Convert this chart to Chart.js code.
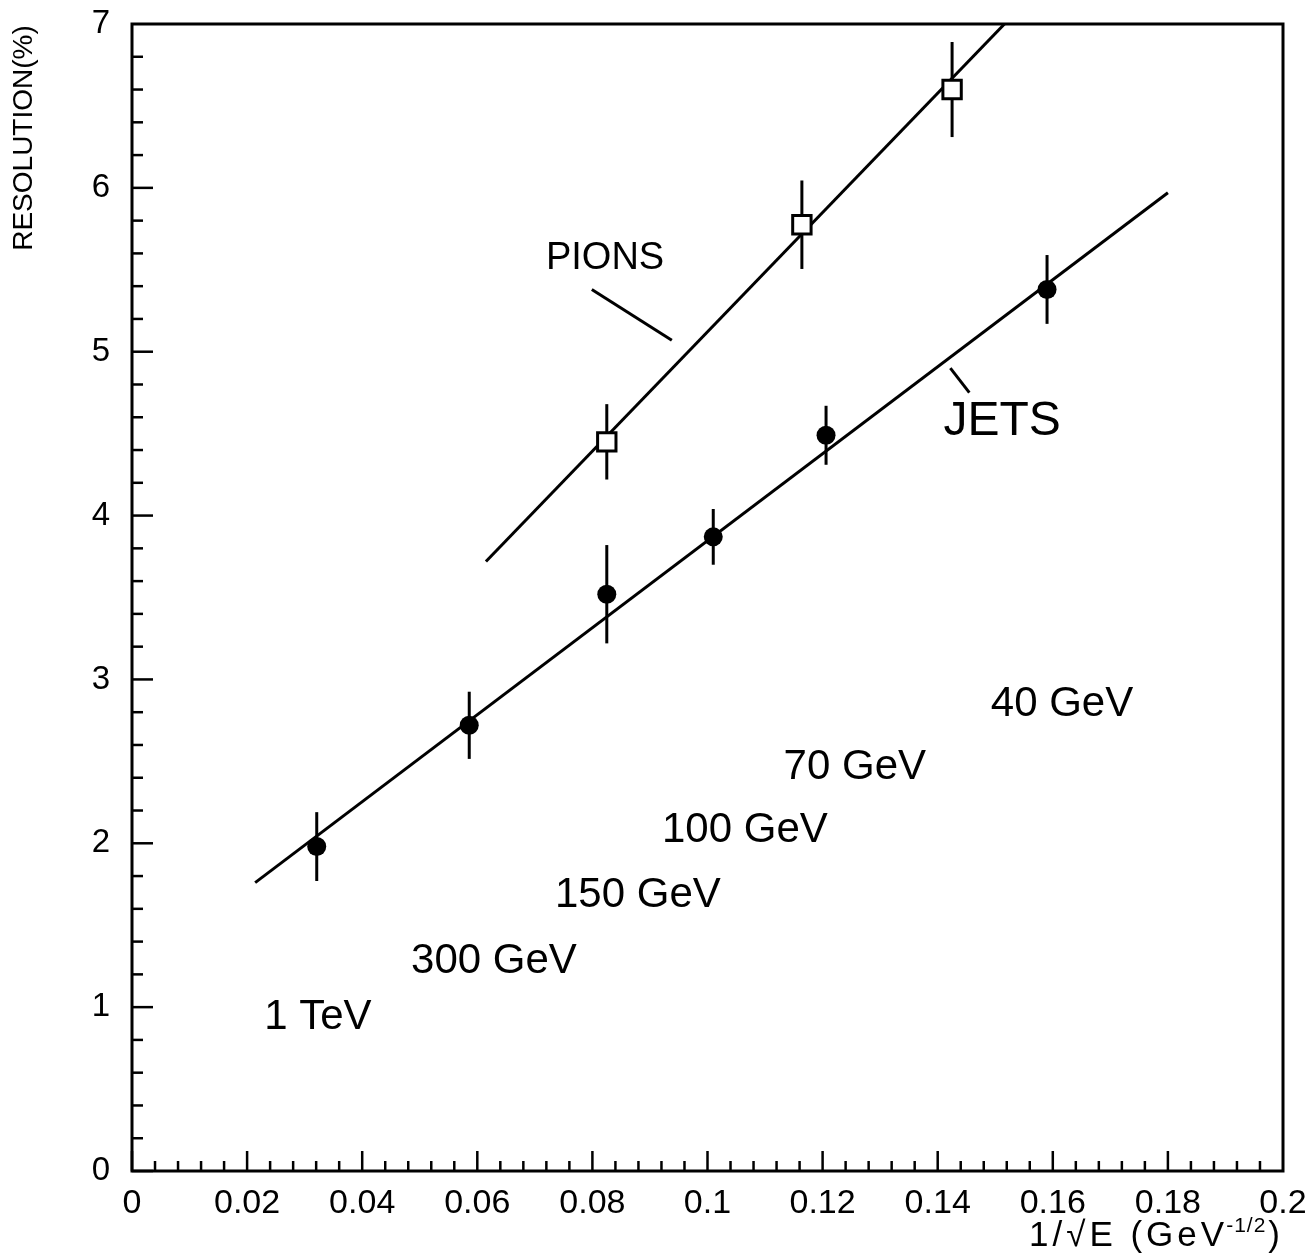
<!DOCTYPE html>
<html>
<head>
<meta charset="utf-8">
<title>Resolution vs 1/sqrt(E)</title>
<script src="https://cdn.jsdelivr.net/npm/chart.js@4/dist/chart.umd.min.js"></script>
<style>
  html, body { margin: 0; padding: 0; background: #fff; }
  #wrap { width: 1313px; height: 1260px; position: relative; }
</style>
</head>
<body>
<div id="wrap"><canvas id="resolutionChart"></canvas></div>
<script>
'use strict';

var jetsX = [0.0321, 0.0586, 0.0825, 0.101, 0.1206, 0.159];
var jetsY = [1.98, 2.72, 3.52, 3.87, 4.49, 5.38];
var jetsErr = [0.21, 0.205, 0.30, 0.17, 0.18, 0.21];

var pionsX = [0.0825, 0.1164, 0.1425];
var pionsY = [4.45, 5.775, 6.60];
var pionsErr = [0.23, 0.27, 0.29];

// fitted straight lines
var jetsFitX = [0.0214, 0.180];
var jetsFitY = [1.76, 5.97];
var pionsFitX = [0.0615, 0.1516];
var pionsFitY = [3.72, 7.0];

// little pointer strokes next to the PIONS / JETS labels
var pionsPointerX = [0.0799, 0.0938];
var pionsPointerY = [5.38, 5.07];
var jetsPointerX = [0.1422, 0.1455];
var jetsPointerY = [4.90, 4.75];

// axes
var xTicks = [0, 0.02, 0.04, 0.06, 0.08, 0.1, 0.12, 0.14, 0.16, 0.18, 0.2];
var xTickLabels = ['0', '0.02', '0.04', '0.06', '0.08', '0.1', '0.12', '0.14', '0.16', '0.18', '0.2'];
var yTicks = [0, 1, 2, 3, 4, 5, 6, 7];
var yTickLabels = ['0', '1', '2', '3', '4', '5', '6', '7'];

// text labels inside the plot
var noteText = ['PIONS', 'JETS', '40 GeV', '70 GeV', '100 GeV', '150 GeV', '300 GeV', '1 TeV'];
var noteX = [0.0822, 0.1512, 0.1616, 0.1256, 0.1065, 0.0879, 0.0629, 0.0323];
var noteY = [5.57, 4.57, 2.845, 2.46, 2.076, 1.679, 1.276, 0.94];
var noteSize = [38, 48, 42, 42, 42, 42, 42, 42];

var FONT = '"Liberation Sans", Arial, sans-serif';

function toPoints(xs, ys) {
  var pts = [];
  for (var i = 0; i < xs.length; i++) {
    pts.push({ x: xs[i], y: ys[i] });
  }
  return pts;
}

function lineSet(xs, ys) {
  return {
    data: toPoints(xs, ys),
    showLine: true,
    borderColor: '#000',
    borderWidth: 3,
    pointRadius: 0,
    fill: false
  };
}

// keep the plot frame where the layout padding puts it
function fixScale(scale, size) {
  if (scale.isHorizontal()) {
    scale.height = size;
  } else {
    scale.width = size;
  }
  scale.paddingTop = 0;
  scale.paddingBottom = 0;
  scale.paddingLeft = 0;
  scale.paddingRight = 0;
}

// vertical error bars, drawn under the markers
var errorBars = {
  id: 'errorBars',
  beforeDatasetsDraw: function (chart) {
    var ctx = chart.ctx;
    var xs = chart.scales.x;
    var ys = chart.scales.y;
    ctx.save();
    ctx.strokeStyle = '#000';
    ctx.lineWidth = 3;
    function bars(xv, yv, ev) {
      for (var i = 0; i < xv.length; i++) {
        var px = xs.getPixelForValue(xv[i]);
        ctx.beginPath();
        ctx.moveTo(px, ys.getPixelForValue(yv[i] - ev[i]));
        ctx.lineTo(px, ys.getPixelForValue(yv[i] + ev[i]));
        ctx.stroke();
      }
    }
    bars(jetsX, jetsY, jetsErr);
    bars(pionsX, pionsY, pionsErr);
    ctx.restore();
  }
};

// frame, inward ticks, texts and axis titles
var decorations = {
  id: 'decorations',
  afterDraw: function (chart) {
    var ctx = chart.ctx;
    var a = chart.chartArea;
    var xs = chart.scales.x;
    var ys = chart.scales.y;
    var i, k, v, p;
    ctx.save();
    ctx.strokeStyle = '#000';
    ctx.fillStyle = '#000';

    ctx.lineWidth = 3;
    ctx.strokeRect(a.left, a.top, a.right - a.left, a.bottom - a.top);

    ctx.lineWidth = 2.5;
    for (i = 0; i < xTicks.length - 1; i++) {
      for (k = 0; k < 5; k++) {
        v = xTicks[i] + (xTicks[i + 1] - xTicks[i]) * k / 5;
        p = xs.getPixelForValue(v);
        ctx.beginPath();
        ctx.moveTo(p, a.bottom);
        ctx.lineTo(p, a.bottom - (k === 0 ? 20 : 10));
        ctx.stroke();
      }
    }
    for (i = 0; i < yTicks.length - 1; i++) {
      for (k = 0; k < 5; k++) {
        v = yTicks[i] + (yTicks[i + 1] - yTicks[i]) * k / 5;
        p = ys.getPixelForValue(v);
        ctx.beginPath();
        ctx.moveTo(a.left, p);
        ctx.lineTo(a.left + (k === 0 ? 21 : 11), p);
        ctx.stroke();
      }
    }

    ctx.textAlign = 'center';
    ctx.textBaseline = 'middle';
    for (i = 0; i < noteText.length; i++) {
      ctx.font = noteSize[i] + 'px ' + FONT;
      ctx.fillText(noteText[i], xs.getPixelForValue(noteX[i]), ys.getPixelForValue(noteY[i]));
    }

    // y title, rotated, near the top
    ctx.save();
    ctx.translate(24, a.top + 114);
    ctx.rotate(-Math.PI / 2);
    ctx.font = '28px ' + FONT;
    ctx.fillText('RESOLUTION(%)', 0, 0);
    ctx.restore();

    // x title with superscript, right aligned
    ctx.textAlign = 'left';
    ctx.textBaseline = 'alphabetic';
    var base = 1246;
    var mainFont = '35px ' + FONT;
    var supFont = '21px ' + FONT;
    var mainText = '1/\u221AE (GeV';
    var supText = '-1/2';
    ctx.letterSpacing = '4px';
    ctx.font = mainFont;
    var w1 = ctx.measureText(mainText).width;
    var w3 = ctx.measureText(')').width;
    ctx.letterSpacing = '1px';
    ctx.font = supFont;
    var w2 = ctx.measureText(supText).width;
    var start = 1284 - (w1 + w2 + w3);
    ctx.letterSpacing = '4px';
    ctx.font = mainFont;
    ctx.fillText(mainText, start, base);
    ctx.fillText(')', start + w1 + w2, base);
    ctx.letterSpacing = '1px';
    ctx.font = supFont;
    ctx.fillText(supText, start + w1 - 2, base - 14);
    ctx.restore();
  }
};

function drawChart() {
  Chart.defaults.font.family = FONT;
  Chart.defaults.color = '#000';
  var ctx = document.getElementById('resolutionChart').getContext('2d');
  var chart = new Chart(ctx, { //eslint-disable-line
    type: 'scatter',
    data: {
      datasets: [
        {
          data: toPoints(jetsX, jetsY),
          pointStyle: 'circle',
          pointRadius: 9.5,
          backgroundColor: '#000',
          borderColor: '#000',
          borderWidth: 0
        },
        {
          data: toPoints(pionsX, pionsY),
          pointStyle: 'rect',
          pointRadius: 13,
          backgroundColor: '#fff',
          borderColor: '#000',
          borderWidth: 3
        },
        lineSet(jetsFitX, jetsFitY),
        lineSet(pionsFitX, pionsFitY),
        lineSet(pionsPointerX, pionsPointerY),
        lineSet(jetsPointerX, jetsPointerY)
      ]
    },
    options: {
      responsive: true,
      maintainAspectRatio: false,
      animation: false,
      events: [],
      layout: { padding: { left: 0, top: 24, right: 30, bottom: 0 } },
      plugins: {
        legend: { display: false },
        tooltip: { enabled: false }
      },
      scales: {
        x: {
          type: 'linear',
          min: 0,
          max: 0.2,
          grid: { display: false, drawTicks: false },
          border: { display: false },
          ticks: {
            stepSize: 0.02,
            autoSkip: false,
            maxRotation: 0,
            padding: 12,
            font: { size: 34 },
            callback: function (value, index) { return xTickLabels[index]; }
          },
          afterFit: function (scale) { fixScale(scale, 89); }
        },
        y: {
          type: 'linear',
          min: 0,
          max: 7,
          grid: { display: false, drawTicks: false },
          border: { display: false },
          ticks: {
            stepSize: 1,
            autoSkip: false,
            padding: 22,
            font: { size: 33 },
            callback: function (value, index) { return yTickLabels[index]; }
          },
          afterFit: function (scale) { fixScale(scale, 132); }
        }
      }
    },
    plugins: [errorBars, decorations]
  });
}

drawChart();
</script>
</body>
</html>
